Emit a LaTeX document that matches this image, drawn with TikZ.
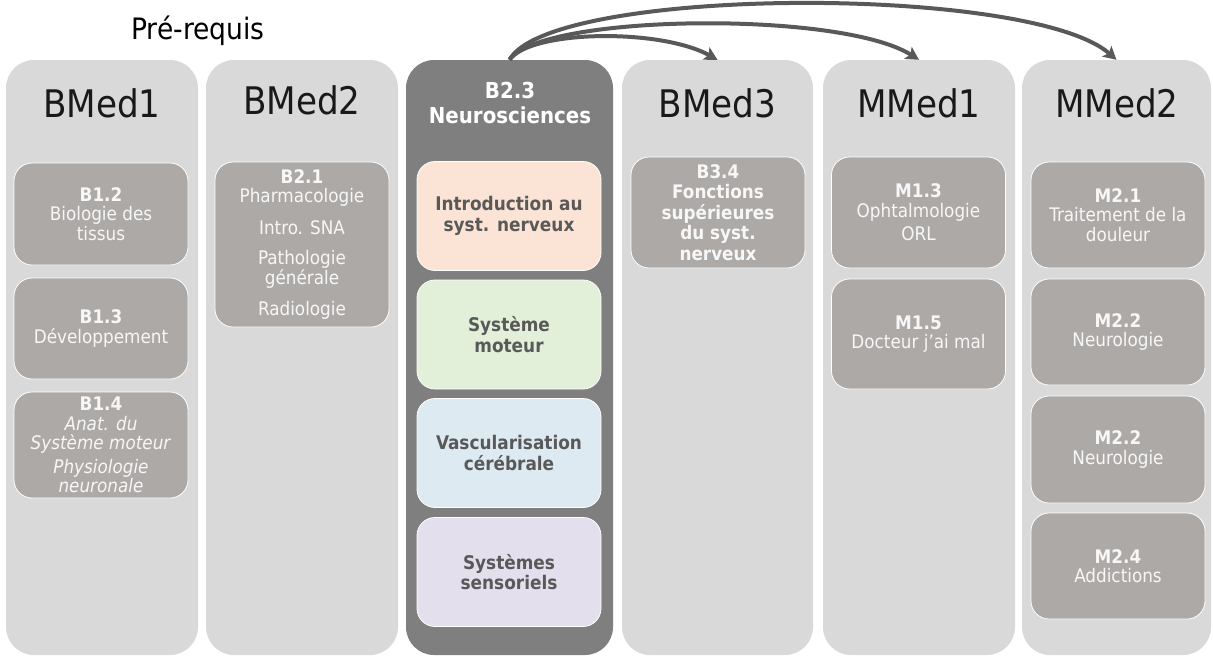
\documentclass[tikz,border=0pt]{standalone}
\usepackage{fontspec}
\setmainfont{DejaVu Sans Condensed}
\usetikzlibrary{arrows.meta}

\definecolor{colgrey}{HTML}{D9D9D9}
\definecolor{neurogrey}{HTML}{7F7F7F}
\definecolor{unitgrey}{HTML}{ADA9A7}
\definecolor{arrowgrey}{HTML}{595959}
\definecolor{peach}{HTML}{FBE4D5}
\definecolor{mint}{HTML}{E2EFD9}
\definecolor{skyblue}{HTML}{DEEAF1}
\definecolor{lavender}{HTML}{E4DFEC}

\begin{document}
\begin{tikzpicture}[x=1pt, y=-1pt,
	yearcol/.style={fill=colgrey, rounded corners=28pt, inner sep=0pt,
					minimum width=192pt, minimum height=595pt},
	yeartitle/.style={anchor=base, text=black!90,
					  font=\fontsize{38}{40}\selectfont},
	unitbox/.style={fill=unitgrey, draw=white, line width=0.8pt,
					rounded corners=18pt, minimum width=174pt,
					inner sep=2pt, align=center, text=white!97!black,
					font=\fontsize{18.7}{19.5}\selectfont},
	neurobox/.style={draw=white, line width=0.8pt, rounded corners=18pt,
					 minimum width=184pt, minimum height=109pt,
					 align=center, text=arrowgrey,
					 font=\bfseries\fontsize{18.8}{20.5}\selectfont},
	follows/.style={draw=arrowgrey, line width=4pt,
					-{Stealth[length=13pt, width=14pt, inset=3pt]}}]

	\useasboundingbox (0,0) rectangle (1213,657);

	\draw (198,39) node[anchor=base,
						font=\fontsize{29.5}{31}\selectfont](prereq){Pré-requis};

	\draw (102,357.5) node[yearcol](bmed1){};
	\draw (302,357.5) node[yearcol](bmed2){};
	\draw (509.5,357.5) node[yearcol,
							 fill=neurogrey,
							 minimum width=207pt](neuro){};
	\draw (717.5,357.5) node[yearcol, minimum width=191pt](bmed3){};
	\draw (919,357.5) node[yearcol](mmed1){};
	\draw (1116.5,357.5) node[yearcol, minimum width=189pt](mmed2){};

	\draw (102,117) node[yeartitle](t1){BMed1};
	\draw (302,114) node[yeartitle](t2){BMed2};
	\draw (717.5,117) node[yeartitle](t3){BMed3};
	\draw (919,117) node[yeartitle](t4){MMed1};
	\draw (1117,117) node[yeartitle](t5){MMed2};
	\draw (510,103) node[align=center, text=white,
						 font=\bfseries\fontsize{22}{24.5}\selectfont](tn){B2.3\\Neurosciences};

	\draw (101,214) node[unitbox, minimum height=102pt](b12){\textbf{B1.2}\\Biologie des\\tissus};
	\draw (101,328.5) node[unitbox, minimum height=101pt](b13){\textbf{B1.3}\\Développement};
	\draw (101,445) node[unitbox, minimum height=106pt](b14){\textbf{B1.4}\\\textit{Anat. du}\\\textit{Système moteur}\\[4pt]\textit{Physiologie}\\\textit{neuronale}};

	\draw (302,244.5) node[unitbox, minimum height=165pt](b21){\textbf{B2.1}\\Pharmacologie\\[12pt]Intro. SNA\\[11pt]Pathologie\\générale\\[12pt]Radiologie};

	\draw (509,216) node[neurobox, fill=peach](intro){Introduction au\\syst. nerveux};
	\draw (509,334.5) node[neurobox, fill=mint](moteur){Système\\moteur};
	\draw (509,453) node[neurobox, fill=skyblue](vasc){Vascularisation\\cérébrale};
	\draw (509,572) node[neurobox, fill=lavender](sens){Systèmes\\sensoriels};

	\draw (718,212.5) node[unitbox, minimum height=111pt,
						   font=\bfseries\fontsize{18.7}{20.5}\selectfont](b34){B3.4\\Fonctions\\supérieures\\du syst.\\nerveux};

	\draw (918.5,212.5) node[unitbox, minimum height=111pt](m13){\textbf{M1.3}\\Ophtalmologie\\[4pt]ORL};
	\draw (918.5,334) node[unitbox, minimum height=110pt](m15){\textbf{M1.5}\\Docteur j’ai mal};

	\draw (1118,215) node[unitbox, minimum height=106pt](m21){\textbf{M2.1}\\Traitement de la\\douleur};
	\draw (1118,332) node[unitbox, minimum height=106pt](m22){\textbf{M2.2}\\Neurologie};
	\draw (1118,449.5) node[unitbox, minimum height=107pt](m22b){\textbf{M2.2}\\Neurologie};
	\draw (1118,566) node[unitbox, minimum height=106pt](m24){\textbf{M2.4}\\Addictions};

	\draw [follows](neuro.north) .. controls (530,30) and (660,28) .. (bmed3.north);
	\draw [follows](neuro.north) .. controls (540,14) and (840,10) .. (mmed1.north);
	\draw [follows](neuro.north) .. controls (550,-14) and (1030,-16) .. (mmed2.north);
\end{tikzpicture}
\end{document}
